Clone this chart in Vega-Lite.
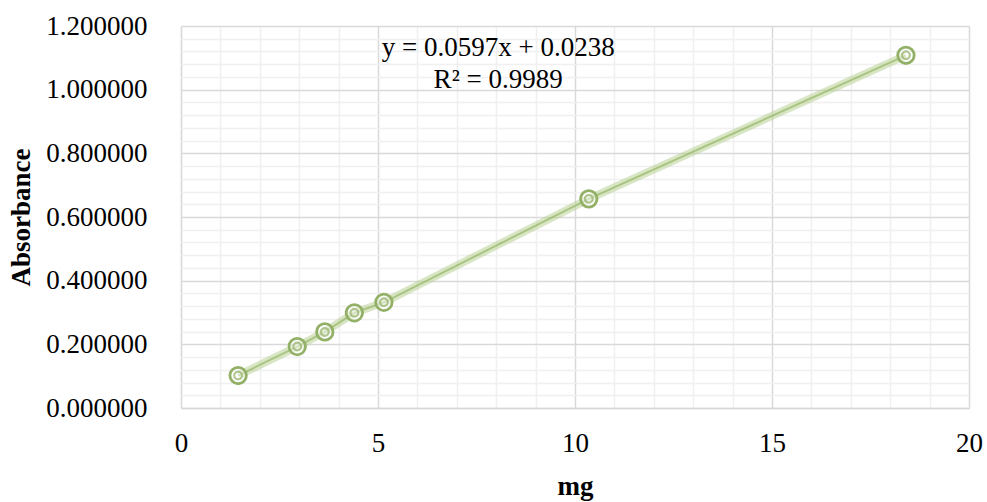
{
  "$schema": "https://vega.github.io/schema/vega-lite/v6.json",
  "autosize": {"type": "none"},
  "width": 788,
  "height": 382,
  "padding": {"left": 181, "top": 26, "right": 18, "bottom": 94},
  "background": "#ffffff",
  "config": {
    "view": {"stroke": null},
    "font": "Liberation Serif",
    "axis": {"labelFont": "Liberation Serif", "titleFont": "Liberation Serif", "labelColor": "#000000", "titleColor": "#000000"}
  },
  "data": {"values": [
    {"mg": 1.45, "abs": 0.102},
    {"mg": 2.95, "abs": 0.193},
    {"mg": 3.65, "abs": 0.239},
    {"mg": 4.4, "abs": 0.299},
    {"mg": 5.15, "abs": 0.332},
    {"mg": 10.35, "abs": 0.657},
    {"mg": 18.4, "abs": 1.108}
  ]},
  "resolve": {"axis": {"x": "independent", "y": "independent"}},
  "layer": [
    {
      "mark": {"type": "line", "stroke": "#b9d196", "strokeWidth": 8, "opacity": 0.55},
      "encoding": {
        "x": {"field": "mg", "type": "quantitative", "scale": {"domain": [0, 20], "nice": false},
          "axis": {"orient": "bottom", "values": [0,1,2,3,4,6,7,8,9,11,12,13,14,16,17,18,19], "grid": true, "gridColor": "#f0f0f0", "gridWidth": 1.5, "labels": false, "ticks": false, "domain": false, "title": null}},
        "y": {"field": "abs", "type": "quantitative", "scale": {"domain": [0, 1.2], "nice": false},
          "axis": {"orient": "left", "values": [0.04,0.08,0.12,0.16,0.24,0.28,0.32,0.36,0.44,0.48,0.52,0.56,0.64,0.68,0.72,0.76,0.84,0.88,0.92,0.96,1.04,1.08,1.12,1.16], "grid": true, "gridColor": "#f0f0f0", "gridWidth": 1.5, "labels": false, "ticks": false, "domain": false, "title": null}}
      }
    },
    {
      "mark": {"type": "line", "stroke": "#9dbb70", "strokeWidth": 2, "opacity": 0.8},
      "encoding": {
        "x": {"field": "mg", "type": "quantitative",
          "axis": {"orient": "bottom", "values": [0,5,10,15,20], "grid": true, "gridColor": "#d9d9d9", "gridWidth": 1.5, "ticks": false, "domain": true, "domainColor": "#d9d9d9", "domainWidth": 1.5, "labelFontSize": 27, "labelPadding": 22, "labelFlush": false, "format": "d", "title": "mg", "titleFontSize": 27, "titleFontWeight": "bold", "titlePadding": 17}},
        "y": {"field": "abs", "type": "quantitative",
          "axis": {"orient": "left", "values": [0,0.2,0.4,0.6,0.8,1.0,1.2], "grid": true, "gridColor": "#d9d9d9", "gridWidth": 1.5, "ticks": false, "domain": false, "labelFontSize": 27, "labelPadding": 34, "labelFlush": false, "format": ".6f", "title": "Absorbance", "titleFontSize": 27, "titleFontWeight": "bold", "titlePadding": 10}}
      }
    },
    {
      "mark": {"type": "point", "shape": "circle", "size": 270, "stroke": "#93b067", "strokeWidth": 2.8, "fill": "#ffffff", "fillOpacity": 0.5, "filled": false},
      "encoding": {
        "x": {"field": "mg", "type": "quantitative", "axis": null},
        "y": {"field": "abs", "type": "quantitative", "axis": null}
      }
    },
    {
      "mark": {"type": "point", "shape": "circle", "size": 60, "stroke": "#93b067", "strokeWidth": 2.2, "filled": false},
      "encoding": {
        "x": {"field": "mg", "type": "quantitative", "axis": null},
        "y": {"field": "abs", "type": "quantitative", "axis": null}
      }
    },
    {
      "data": {"values": [
        {"label": "y = 0.0597x + 0.0238", "lx": 8.05, "ly": 1.131},
        {"label": "R² = 0.9989", "lx": 8.05, "ly": 1.03}
      ]},
      "mark": {"type": "text", "font": "Liberation Serif", "fontSize": 27, "color": "#000000", "align": "center", "baseline": "middle"},
      "encoding": {
        "x": {"field": "lx", "type": "quantitative", "axis": null},
        "y": {"field": "ly", "type": "quantitative", "axis": null},
        "text": {"field": "label"}
      }
    }
  ]
}
